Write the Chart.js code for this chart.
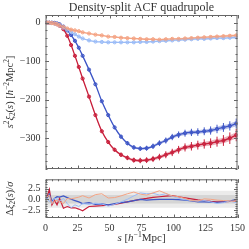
<!DOCTYPE html>
<html>
<head>
<meta charset="utf-8">
<script src="https://cdn.jsdelivr.net/npm/chart.js@4/dist/chart.umd.min.js"></script>
<style>
html, body { margin: 0; padding: 0; background: #fff; }
#wrap { position: relative; width: 249px; height: 249px; }
canvas { position: absolute; left: 0; }
#topCanvas { top: 0; }
#botCanvas { top: 172px; }
</style>
</head>
<body>
<div id="wrap">
<canvas id="topCanvas" width="249" height="172" style="width:249px;height:172px"></canvas>
<canvas id="botCanvas" width="249" height="77" style="width:249px;height:77px"></canvas>
</div>
<script>
// separation bins
let sBins = [1, 3, 5, 7, 9, 11, 14, 17, 20, 23, 26, 29, 34, 39, 44, 49, 54, 59, 64, 69, 74, 79, 84, 89, 94, 99, 104, 109, 114, 119, 124, 129, 134, 139, 144, 149];

// quadrupole s^2 xi_2 for each quantile
let xiRed = [0, 0, -0.5, -1.5, -4, -8, -17, -34, -58, -86, -115, -145, -192, -240, -282, -310, -330, -343, -351, -357, -358, -357, -354, -349, -343, -337, -330, -324, -321, -318, -315, -313, -309, -306, -300, -292];
let xiBlue = [0, 0, 0, -0.5, -2, -4, -10, -20, -32, -47, -65, -86, -122, -160, -204, -240, -272, -296, -313, -324, -327, -326, -321, -313, -306, -297, -291, -287, -285, -284, -282, -280, -276, -272, -268, -262];
let xiSalmon = [0, 0, -1, -2, -4, -7, -11, -15, -18, -20, -22, -25, -28, -31, -33, -36, -37, -39, -40, -41, -42, -43, -43, -44, -43, -42, -42, -41, -40, -39, -38, -37, -36, -35, -34, -33];
let xiSky = [0, 0, -1, -2, -4, -7, -13, -18, -24, -30, -36, -41, -46, -49, -50, -51, -51, -51, -51, -51, -50, -50, -49, -48, -47, -46, -45, -44, -43, -42, -42, -41, -40, -40, -39, -38];

// error bars
let errRed = [0.5, 0.5, 0.6, 0.7, 0.8, 1.0, 1.2, 1.5, 1.8, 2.0, 2.3, 2.6, 3.0, 3.5, 4.0, 4.5, 5.0, 5.5, 6.0, 6.5, 7.0, 7.5, 8.0, 8.5, 9.0, 9.5, 10, 10.5, 11, 11.5, 12, 12.5, 13, 14, 15, 16];
let errBlue = [0.4, 0.4, 0.5, 0.6, 0.7, 0.9, 1.1, 1.3, 1.6, 1.8, 2.0, 2.3, 2.7, 3.1, 3.5, 4.0, 4.4, 4.8, 5.2, 5.6, 6.0, 6.5, 7.0, 7.4, 7.8, 8.2, 8.6, 9.0, 9.4, 9.8, 10.2, 10.6, 11, 11.5, 12, 13];
let errSalmon = [0.2, 0.2, 0.3, 0.3, 0.4, 0.4, 0.5, 0.6, 0.7, 0.8, 0.9, 1.0, 1.1, 1.2, 1.3, 1.4, 1.5, 1.6, 1.7, 1.8, 1.9, 2.0, 2.1, 2.2, 2.3, 2.4, 2.5, 2.6, 2.7, 2.8, 2.9, 3.0, 3.1, 3.2, 3.3, 3.4];
let errSky = [0.2, 0.2, 0.3, 0.3, 0.4, 0.5, 0.6, 0.7, 0.8, 0.9, 1.0, 1.1, 1.2, 1.3, 1.4, 1.5, 1.6, 1.7, 1.8, 1.9, 2.0, 2.1, 2.2, 2.3, 2.4, 2.5, 2.6, 2.7, 2.8, 2.9, 3.0, 3.1, 3.2, 3.3, 3.4, 3.5];

// model uncertainty bands
let bandRed = [0.3, 0.3, 0.3, 0.4, 0.4, 0.5, 0.6, 0.8, 0.9, 1.0, 1.2, 1.3, 1.5, 1.8, 2.0, 2.3, 2.5, 2.8, 3.0, 3.3, 3.5, 3.8, 4.0, 4.3, 4.5, 4.8, 5.0, 5.3, 5.5, 5.8, 6.0, 6.3, 6.6, 7.0, 7.5, 8.0];
let bandBlue = [0.3, 0.3, 0.3, 0.3, 0.4, 0.4, 0.5, 0.7, 0.8, 0.9, 1.0, 1.1, 1.3, 1.5, 1.7, 1.9, 2.1, 2.4, 2.6, 2.8, 3.0, 3.2, 3.4, 3.6, 3.8, 4.1, 4.3, 4.5, 4.7, 4.9, 5.1, 5.4, 5.6, 6.0, 6.4, 6.8];

// residuals (data - model) / sigma
let resRed = [0.3, 2.3, -1.3, -0.2, -1.3, 0.2, -2.1, -1.7, -2.0, -2.0, -2.3, -2.7, -1.7, -1.6, -1.5, -1.35, -1.2, -0.9, -0.6, -0.3, 0.0, 0.2, 0.45, 0.6, 0.75, 0.85, 0.6, 0.35, 0.1, -0.15, -0.35, -0.5, -0.6, -0.6, -0.5, -0.4];
let resBlue = [0.2, 1.2, -0.5, 0.2, 0.6, 0.5, 0.8, 0.4, 0.0, -0.3, -0.6, -1.0, -0.8, -1.2, -1.1, -1.3, -1.0, -0.8, -0.6, -0.3, 0.0, -0.2, -0.1, 0.0, 0.0, 0.0, -0.1, -0.2, -0.4, -0.6, -0.6, -0.7, -0.7, -0.6, -0.4, 0.0];
let resSalmon = [0.5, 1.0, -1.0, -0.5, -0.2, -0.6, -1.0, 0.2, 0.1, 0.3, 0.5, 0.85, 0.3, 1.1, 1.3, 0.3, 0.4, 0.8, 1.3, 1.7, 1.2, 1.0, 1.5, 2.0, 1.4, 0.8, 0.6, 0.2, -0.3, -0.4, 0.1, 0.0, -0.2, -0.3, -0.4, -0.5];
let resSky = [0.3, -0.5, -1.0, 0.3, 0.0, -0.4, 0.2, -1.0, -2.0, -1.3, -1.7, -1.0, -1.2, -0.9, -1.1, -1.6, -1.2, -0.6, 0.0, 0.8, 1.5, 1.3, 1.4, 1.0, 1.3, 0.7, 0.2, -0.1, -0.3, -0.4, -0.3, -0.6, -1.0, -0.8, -0.4, -0.8];

// ticks
let xTicks = [0, 25, 50, 75, 100, 125, 150];
let yTicksTop = [0, -100, -200, -300];
let yTicksBot = [2.5, 0, -2.5];

let serif = '"Liberation Serif", "DejaVu Serif", serif';
let textColor = "#333";
let frameColor = "#666";

let series = [
    { vals: xiSalmon, err: errSalmon, band: errSalmon, res: resSalmon, color: "#f4a383", rgb: "244,163,131" },
    { vals: xiSky, err: errSky, band: errSky, res: resSky, color: "#9bbcf7", rgb: "155,188,247" },
    { vals: xiBlue, err: errBlue, band: bandBlue, res: resBlue, color: "#3e56c6", rgb: "62,86,198" },
    { vals: xiRed, err: errRed, band: bandRed, res: resRed, color: "#c81f3b", rgb: "200,31,59" },
];

function pts(vals, off, sign) {
    return sBins.map((s, i) => ({ x: s, y: vals[i] + (off ? sign * off[i] : 0) }));
}

function minorTicks(lo, hi, step) {
    let out = [];
    for (let v = lo; v <= hi + 1e-9; v += step) out.push(Math.round(v * 1000) / 1000);
    return out;
}

function richText(ctx, parts, cx, cy, size, rot) {
    ctx.save();
    ctx.translate(cx, cy);
    ctx.rotate(rot);
    ctx.fillStyle = textColor;
    ctx.textBaseline = "alphabetic";
    ctx.textAlign = "left";
    let fnt = p => (p.it ? "italic " : "") + ((p.sup || p.sub) ? size * 0.7 : size) + "px " + serif;
    let w = 0;
    parts.forEach(p => { ctx.font = fnt(p); w += ctx.measureText(p.t).width; });
    let x = -w / 2;
    parts.forEach(p => {
        ctx.font = fnt(p);
        let dy = p.sup ? -size * 0.38 : (p.sub ? size * 0.2 : 0);
        ctx.fillText(p.t, x, size * 0.35 + dy);
        x += ctx.measureText(p.t).width;
    });
    ctx.restore();
}

// frame, inward ticks, error bars, bands, labels
let decor = {
    id: "decor",
    beforeDatasetsDraw(chart, args, opts) {
        let ctx = chart.ctx, a = chart.chartArea, y = chart.scales.y;
        if (opts.bands) {
            ctx.save();
            opts.bands.forEach(b => {
                ctx.fillStyle = b.color;
                let y1 = y.getPixelForValue(b.hi), y2 = y.getPixelForValue(b.lo);
                ctx.fillRect(a.left, y1, a.right - a.left, y2 - y1);
            });
            ctx.restore();
        }
    },
    beforeDatasetDraw(chart, args) {
        let ds = chart.data.datasets[args.index];
        if (!ds.errs) return;
        let ctx = chart.ctx, xs = chart.scales.x, ys = chart.scales.y;
        ctx.save();
        ctx.strokeStyle = ds.pointBorderColor;
        ctx.lineWidth = 1;
        ds.data.forEach((p, i) => {
            let px = xs.getPixelForValue(p.x);
            ctx.beginPath();
            ctx.moveTo(px, ys.getPixelForValue(p.y - ds.errs[i]));
            ctx.lineTo(px, ys.getPixelForValue(p.y + ds.errs[i]));
            ctx.stroke();
        });
        ctx.restore();
    },
    afterDraw(chart, args, opts) {
        let ctx = chart.ctx, a = chart.chartArea, xs = chart.scales.x, ys = chart.scales.y;
        ctx.save();
        ctx.strokeStyle = frameColor;
        ctx.lineWidth = 1;
        let tick = (vals, len, isX) => {
            vals.forEach(v => {
                ctx.beginPath();
                if (isX) {
                    let px = Math.round(xs.getPixelForValue(v)) + 0.5;
                    ctx.moveTo(px, a.bottom); ctx.lineTo(px, a.bottom - len);
                    ctx.moveTo(px, a.top); ctx.lineTo(px, a.top + len);
                } else {
                    let py = Math.round(ys.getPixelForValue(v)) + 0.5;
                    ctx.moveTo(a.left, py); ctx.lineTo(a.left + len, py);
                    ctx.moveTo(a.right, py); ctx.lineTo(a.right - len, py);
                }
                ctx.stroke();
            });
        };
        tick(opts.xMinor, 2, true);
        tick(xTicks, 3.5, true);
        tick(opts.yMinor, 2, false);
        tick(opts.yMajor, 3.5, false);
        ctx.strokeRect(a.left + 0.5, a.top + 0.5, a.right - a.left - 1, a.bottom - a.top - 1);
        ctx.restore();
        if (opts.title) {
            ctx.save();
            ctx.fillStyle = textColor;
            ctx.font = "12px " + serif;
            ctx.textAlign = "center";
            ctx.textBaseline = "middle";
            ctx.fillText(opts.title, (a.left + a.right) / 2, a.top - 7);
            ctx.restore();
        }
        if (opts.yLabel) richText(ctx, opts.yLabel, 9, (a.top + a.bottom) / 2, opts.yLabelSize, -Math.PI / 2);
        if (opts.xLabel) richText(ctx, opts.xLabel, (a.left + a.right) / 2, a.bottom + 19, 11, 0);
    },
};

let topSets = [];
series.forEach(sr => {
    topSets.push({ data: pts(sr.vals, sr.band, 1), borderWidth: 0, pointRadius: 0, fill: false, tension: 0.35 });
    topSets.push({ data: pts(sr.vals, sr.band, -1), borderWidth: 0, pointRadius: 0, fill: "-1", backgroundColor: "rgba(" + sr.rgb + ",0.35)", tension: 0.35 });
});
series.forEach(sr => {
    topSets.push({ data: pts(sr.vals), borderColor: sr.color, borderWidth: 1.3, pointRadius: 0, fill: false, tension: 0.35 });
    topSets.push({
        data: pts(sr.vals), showLine: false, pointRadius: 1.6, pointBorderWidth: 1,
        pointBorderColor: sr.color, pointBackgroundColor: "rgba(" + sr.rgb + ",0.45)", errs: sr.err,
    });
});

// fixed axis boxes (no auto padding from tick labels)
let fixX = h => sc => { sc.height = h; sc.paddingLeft = 0; sc.paddingRight = 0; };
let fixY = sc => { sc.width = 45.5; sc.paddingTop = 0; sc.paddingBottom = 0; };
let noGrid = { display: false, drawTicks: false };

let commonX = {
    type: "linear", min: 0, max: 150,
    grid: noGrid, border: { display: false },
    afterBuildTicks: sc => { sc.ticks = xTicks.map(v => ({ value: v })); },
};

let fmt = (v, d) => (v < 0 ? "\u2212" : "") + (d ? Math.abs(v).toFixed(d) : Math.abs(v));

let topChart = new Chart(document.getElementById("topCanvas"), {
    type: "line",
    data: { datasets: topSets },
    options: {
        responsive: false, animation: false, devicePixelRatio: 1,
        layout: { autoPadding: false, padding: { left: 0, right: 11.5, top: 15, bottom: 3 } },
        plugins: {
            legend: { display: false }, tooltip: { enabled: false },
            decor: {
                title: "Density-split ACF quadrupole",
                xMinor: minorTicks(0, 150, 5),
                yMajor: yTicksTop,
                yMinor: minorTicks(-380, 20, 20),
                yLabelSize: 10.5,
                yLabel: [
                    { t: "s", it: true }, { t: "2", sup: true }, { t: "\u03be", it: true }, { t: "2", sub: true },
                    { t: "(" }, { t: "s", it: true }, { t: ") [" }, { t: "h", it: true }, { t: "\u22122", sup: true },
                    { t: "Mpc" }, { t: "2", sup: true }, { t: "]" },
                ],
            },
        },
        scales: {
            x: Object.assign({}, commonX, { ticks: { display: false }, afterFit: fixX(0) }),
            y: {
                min: -380, max: 20,
                grid: noGrid, border: { display: false },
                afterBuildTicks: sc => { sc.ticks = yTicksTop.map(v => ({ value: v })); },
                afterFit: fixY,
                ticks: { padding: 5, color: textColor, font: { family: serif, size: 10 }, callback: v => fmt(v) },
            },
        },
    },
    plugins: [decor],
});

let botSets = series.map((sr, k) => ({
    data: sBins.map((s, i) => ({ x: s, y: sr.res[i] })),
    borderColor: sr.color, borderWidth: k < 2 ? 1 : 1.2, pointRadius: 0, fill: false, tension: 0,
}));

let botChart = new Chart(document.getElementById("botCanvas"), {
    type: "line",
    data: { datasets: botSets },
    options: {
        responsive: false, animation: false, devicePixelRatio: 1,
        layout: { autoPadding: false, padding: { left: 0, right: 11.5, top: 7.3, bottom: 0 } },
        plugins: {
            legend: { display: false }, tooltip: { enabled: false },
            decor: {
                xMinor: minorTicks(0, 150, 5),
                yMajor: yTicksBot,
                yMinor: minorTicks(-4, 4.5, 0.5),
                bands: [{ lo: -2, hi: 2, color: "#ebebeb" }, { lo: -1, hi: 1, color: "#d5d5d5" }],
                yLabelSize: 10.5,
                yLabel: [{ t: "\u0394" }, { t: "\u03be", it: true }, { t: "2", sub: true }, { t: "(" }, { t: "s", it: true }, { t: ")/" }, { t: "\u03c3", it: true }],
                xLabel: [{ t: "s", it: true }, { t: " [" }, { t: "h", it: true }, { t: "\u22121", sup: true }, { t: "Mpc]" }],
            },
        },
        scales: {
            x: Object.assign({}, commonX, {
                afterFit: fixX(31),
                ticks: { padding: 4, color: textColor, font: { family: serif, size: 10 }, maxRotation: 0 },
            }),
            y: {
                min: -4.4, max: 4.7,
                grid: noGrid, border: { display: false },
                afterBuildTicks: sc => { sc.ticks = yTicksBot.map(v => ({ value: v })); },
                afterFit: fixY,
                ticks: { padding: 5, color: textColor, font: { family: serif, size: 10 }, callback: v => fmt(v, 1) },
            },
        },
    },
    plugins: [decor],
});
</script>
</body>
</html>
